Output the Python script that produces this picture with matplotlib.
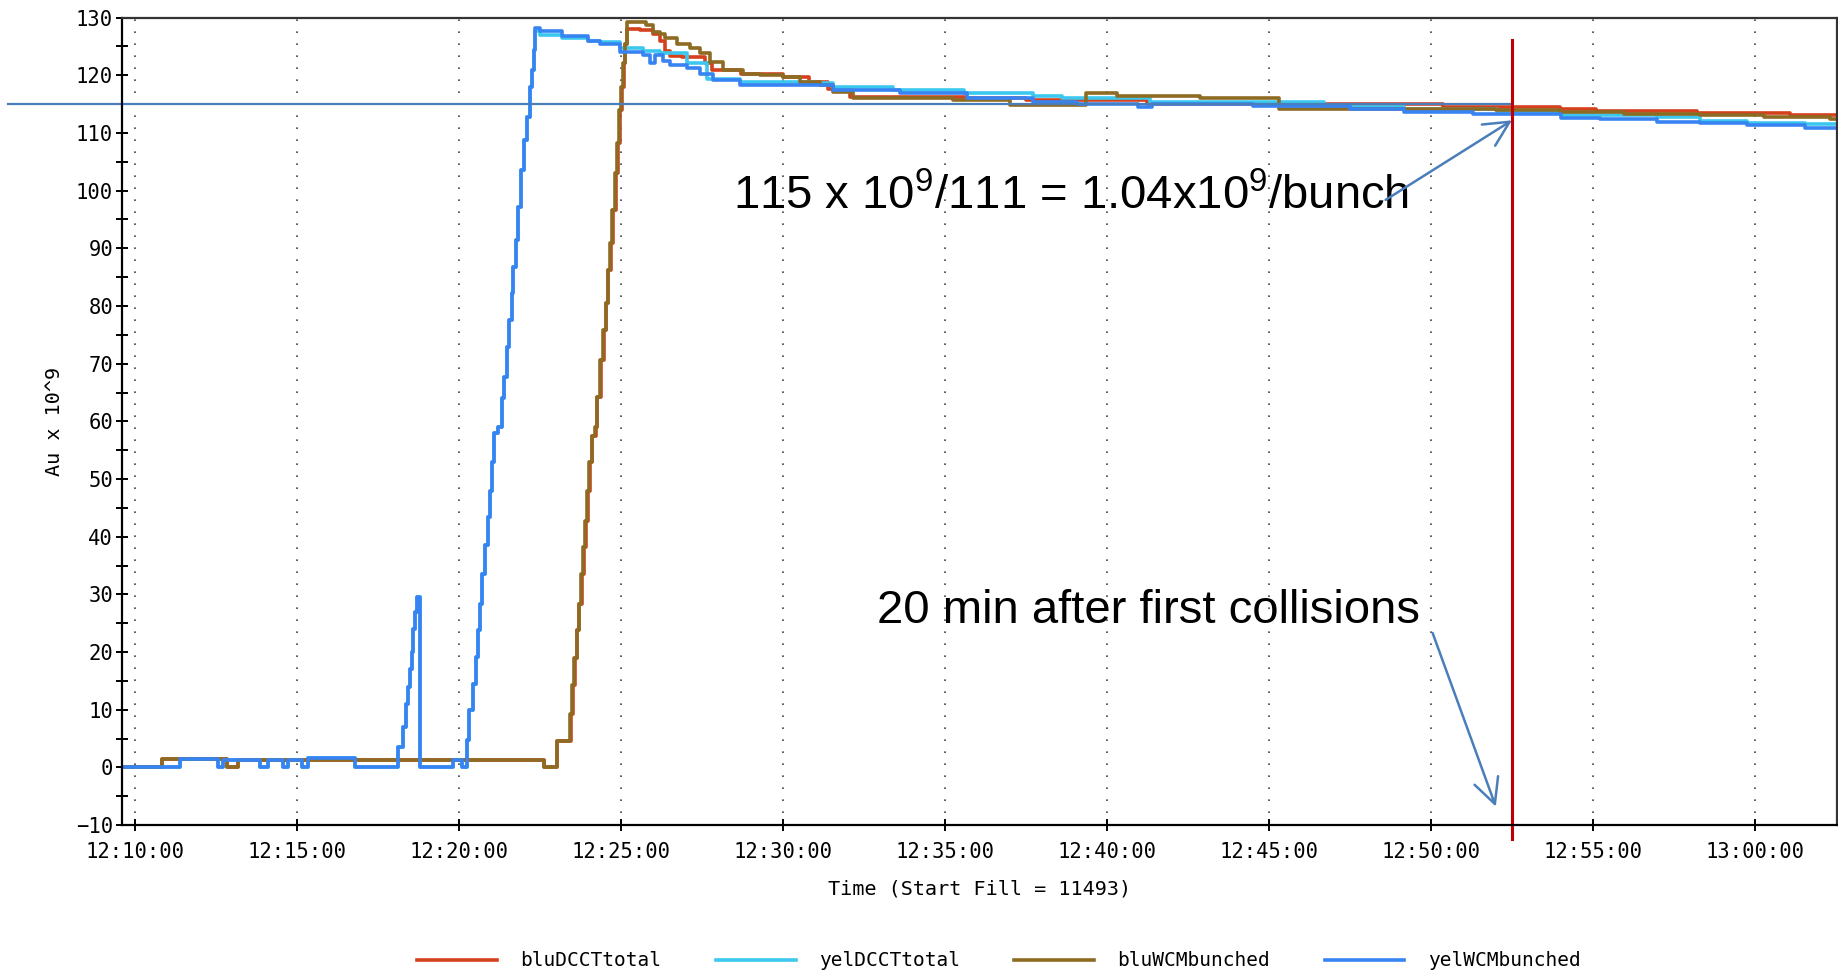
import datetime as dt
import matplotlib
matplotlib.use("Agg")
import matplotlib.pyplot as plt
import matplotlib.dates as mdates

# time in minutes after 12:10:00, values in Au x 10^9 (step data)
blu_dcct_t = [-0.4, 0.83, 2.84, 3.2, 12.63, 13.04, 13.45, 13.52, 13.59, 13.66, 13.72, 13.79, 13.86,
              13.93, 13.99, 14.05, 14.12, 14.23, 14.28, 14.38, 14.48, 14.55, 14.62, 14.69, 14.76,
              14.84, 14.91, 14.97, 15.04, 15.09, 15.14, 15.18, 15.6, 16.0, 16.2, 16.36, 16.52, 16.9,
              17.6, 17.8, 18.7, 20.0, 20.8, 21.4, 22.07, 25.68, 27.5, 31.23, 40.38, 43.99, 45.1,
              48.2, 51.08, 52.6]
blu_dcct_v = [0, 1.5, 0, 1.3, 0, 4.5, 9.3, 14.2, 19, 23.8, 28.4, 33.6, 38.2,
              42.8, 48, 53, 57.5, 59, 64.2, 70.6, 75.8, 80.5, 86.2, 90.9, 96.6,
              103, 108.2, 114, 118, 122.1, 125.5, 128.1, 127.8, 127.2, 126.0, 124.2, 123.3, 123.1,
              122.1, 120.9, 120.3, 119.7, 118.9, 117.7, 116.3, 116.0, 115.7, 115.1, 114.5, 114.1, 113.8,
              113.4, 113.2, 113.2]

yel_dcct_t = [-0.4, 1.40, 2.58, 2.72, 3.86, 4.10, 4.58, 4.74, 5.15, 5.36, 6.80, 8.13, 8.29, 8.37,
              8.44, 8.49, 8.55, 8.60, 8.66, 8.70, 8.80, 9.83, 10.09, 10.26, 10.33, 10.45, 10.53,
              10.58, 10.65, 10.72, 10.82, 10.89, 10.97, 11.03, 11.10, 11.22, 11.32, 11.40, 11.48,
              11.55, 11.63, 11.68, 11.76, 11.84, 11.93, 12.01, 12.10, 12.20, 12.27, 12.31, 12.35,
              12.5, 13.2, 14.0, 14.36, 14.98, 15.7, 16.2, 17.03, 17.65, 18.68, 21.0, 21.56, 23.4,
              25.6, 27.73, 28.6, 31.33, 36.7, 39.16, 42.05, 44.0, 46.97, 48.31, 49.75, 51.55, 52.6]
yel_dcct_v = [0, 1.4, 0, 1.3, 0, 1.3, 0, 1.3, 0, 1.6, 0, 3.5, 7, 11,
              14, 17, 20, 24, 27, 29.5, 0, 1.2, 0, 4.7, 9.9, 14.5, 19.1,
              23.8, 28.4, 33.6, 38.5, 43.4, 48, 53, 57.9, 59, 64, 67.7, 72.9,
              77.5, 82.2, 86.8, 91.4, 97.2, 103.6, 108.8, 112.8, 118, 121, 124.4, 127.6,
              127.0, 126.4, 125.9, 125.7, 124.7, 124.2, 123.8, 122.1, 119.4, 118.9, 118.6, 118.0, 117.4,
              116.9, 116.5, 116.0, 115.4, 114.5, 114.1, 113.7, 113.1, 112.8, 112.1, 111.8, 111.5, 111.5]

blu_wcm_t = [-0.4, 0.83, 2.84, 3.2, 12.63, 13.02, 13.43, 13.50, 13.57, 13.64, 13.70, 13.77, 13.84,
             13.91, 13.97, 14.03, 14.10, 14.21, 14.26, 14.36, 14.46, 14.53, 14.60, 14.67, 14.74,
             14.82, 14.89, 14.95, 15.02, 15.07, 15.12, 15.18, 15.77, 16.0, 16.2, 16.36, 16.73, 17.14,
             17.45, 17.75, 18.16, 18.78, 19.29, 20.0, 20.53, 21.15, 21.56, 22.18, 25.26, 27.01, 29.35,
             30.30, 32.88, 35.30, 42.0, 43.99, 45.94, 48.31, 50.26, 52.32, 52.6]
blu_wcm_v = [0, 1.5, 0, 1.3, 0, 4.5, 9.3, 14.2, 19, 23.8, 28.4, 33.6, 38.2,
             42.8, 48, 53, 57.5, 59, 64.2, 70.6, 75.8, 80.5, 86.2, 90.9, 96.6,
             103, 108.2, 114, 118, 122.1, 125.5, 129.2, 128.7, 127.5, 127.2, 126.4, 125.5, 124.7,
             123.8, 122.3, 120.9, 120.3, 120.0, 119.7, 118.9, 118.3, 117.1, 116.0, 115.7, 114.8, 116.9,
             116.4, 116.1, 114.1, 114.0, 113.6, 113.3, 113.1, 112.8, 112.4, 112.4]

yel_wcm_t = [-0.4, 1.40, 2.58, 2.72, 3.86, 4.10, 4.58, 4.74, 5.15, 5.36, 6.80, 8.13, 8.29, 8.37,
             8.44, 8.49, 8.55, 8.60, 8.66, 8.70, 8.80, 9.83, 10.09, 10.26, 10.33, 10.45, 10.53,
             10.58, 10.65, 10.72, 10.82, 10.89, 10.97, 11.03, 11.10, 11.22, 11.32, 11.40, 11.48,
             11.55, 11.63, 11.68, 11.76, 11.84, 11.93, 12.01, 12.10, 12.20, 12.27, 12.31, 12.35,
             12.5, 13.2, 14.0, 14.36, 14.98, 15.70, 15.90, 16.05, 16.31, 16.52, 17.03, 17.45, 17.86,
             18.68, 21.56, 23.62, 25.68, 27.73, 29.07, 30.97, 31.38, 34.52, 37.51, 39.16, 41.30,
             44.0, 45.22, 46.97, 48.31, 49.75, 51.55, 52.6]
yel_wcm_v = [0, 1.4, 0, 1.3, 0, 1.3, 0, 1.3, 0, 1.6, 0, 3.5, 7, 11,
             14, 17, 20, 24, 27, 29.5, 0, 1.2, 0, 4.7, 9.9, 14.5, 19.1,
             23.8, 28.4, 33.6, 38.5, 43.4, 48, 53, 57.9, 59, 64, 67.7, 72.9,
             77.5, 82.2, 86.8, 91.4, 97.2, 103.6, 108.8, 112.8, 118, 121, 124.4, 128.2,
             127.6, 126.9, 125.9, 125.5, 124.1, 123.5, 122.1, 123.6, 122.5, 121.8, 121.2, 120.3, 119.2,
             118.3, 117.4, 116.9, 116.0, 115.4, 115.1, 114.5, 115.1, 114.7, 114.1, 113.7, 113.3,
             112.6, 112.4, 111.9, 111.7, 111.3, 110.9, 110.9]

series_names = ["bluDCCTtotal", "yelDCCTtotal", "bluWCMbunched", "yelWCMbunched"]
series_colors = ["#d4411c", "#3cc8ee", "#8d6b22", "#3883f2"]

t0 = dt.datetime(2008, 1, 1, 12, 10, 0)
def d(m):
    return mdates.date2num(t0 + dt.timedelta(minutes=m))

mono = "DejaVu Sans Mono"
plt.rcParams["mathtext.fontset"] = "custom"
plt.rcParams["mathtext.rm"] = "Liberation Sans"

fig = plt.figure(figsize=(18.38, 9.75), dpi=100)
ax = fig.add_axes([0.0664, 0.1538, 0.9331, 0.8281])

data = [(blu_dcct_t, blu_dcct_v), (yel_dcct_t, yel_dcct_v), (blu_wcm_t, blu_wcm_v), (yel_wcm_t, yel_wcm_v)]
for (ts, vs), name, c in zip(data, series_names, series_colors):
    ax.plot([d(t) for t in ts], vs, drawstyle="steps-post", color=c, lw=2.6, label=name)

ax.set_xlim(d(-0.39), d(52.53))
ax.set_ylim(-10, 130)
ax.xaxis.set_major_locator(mdates.MinuteLocator(byminute=range(0, 60, 5)))
ax.xaxis.set_major_formatter(mdates.DateFormatter("%H:%M:%S"))
ax.set_yticks(range(-10, 131, 10))
ax.set_yticks(range(-5, 130, 10), minor=True)
ax.tick_params(axis="both", which="both", direction="inout", length=9, width=1.4, labelsize=14.8)
ax.tick_params(axis="x", pad=8)
ax.tick_params(axis="y", pad=2)
for lab in ax.get_xticklabels() + ax.get_yticklabels():
    lab.set_family(mono)
ax.grid(axis="x", color="#444444", ls=(0, (1, 6.2)), lw=1.2)

for s in ["left", "bottom"]:
    ax.spines[s].set_linewidth(1.6)
    ax.spines[s].set_color("black")
for s in ["top", "right"]:
    ax.spines[s].set_linewidth(1.6)
    ax.spines[s].set_color("#333333")

ax.set_xlabel("Time (Start Fill = 11493)", family=mono, fontsize=14.5)
ax.xaxis.set_label_coords(0.5, -0.068)
ax.set_ylabel("Au x 10^9", family=mono, fontsize=14.5)
ax.yaxis.set_label_coords(-0.034, 0.5)

fig.legend(loc="center", bbox_to_anchor=(0.5435, 0.0144), ncol=4, frameon=False,
           prop={"family": mono, "size": 14}, handlelength=4.1, handletextpad=1.2,
           columnspacing=2.8)

# annotations
ax.plot([d(-3.9), d(42.5)], [115, 115], color="#4a7ebb", lw=1.6, clip_on=False)
ax.plot([d(42.5), d(42.5)], [126.1, -12.5], color="#c00000", lw=2.2, clip_on=False)

ax.text(d(18.45), 99, r"115 x 10$^{\mathrm{9}}$/111 = 1.04x10$^{\mathrm{9}}$/bunch", family="Liberation Sans",
        fontsize=34, va="center", ha="left")
ax.annotate("", xy=(d(42.5), 112.2), xytext=(d(38.6), 98.4),
            arrowprops=dict(arrowstyle="->,head_length=0.6,head_width=0.3", color="#4a7ebb",
                            lw=1.8, mutation_scale=30, shrinkA=0, shrinkB=0))

ax.text(d(22.9), 27.2, "20 min after first collisions", family="Liberation Sans",
        fontsize=34, va="center", ha="left")
ax.annotate("", xy=(d(42.0), -6.8), xytext=(d(40.05), 23.3),
            arrowprops=dict(arrowstyle="->,head_length=0.6,head_width=0.3", color="#4a7ebb",
                            lw=1.8, mutation_scale=30, shrinkA=0, shrinkB=0))

fig.savefig("out.png", dpi=100)
